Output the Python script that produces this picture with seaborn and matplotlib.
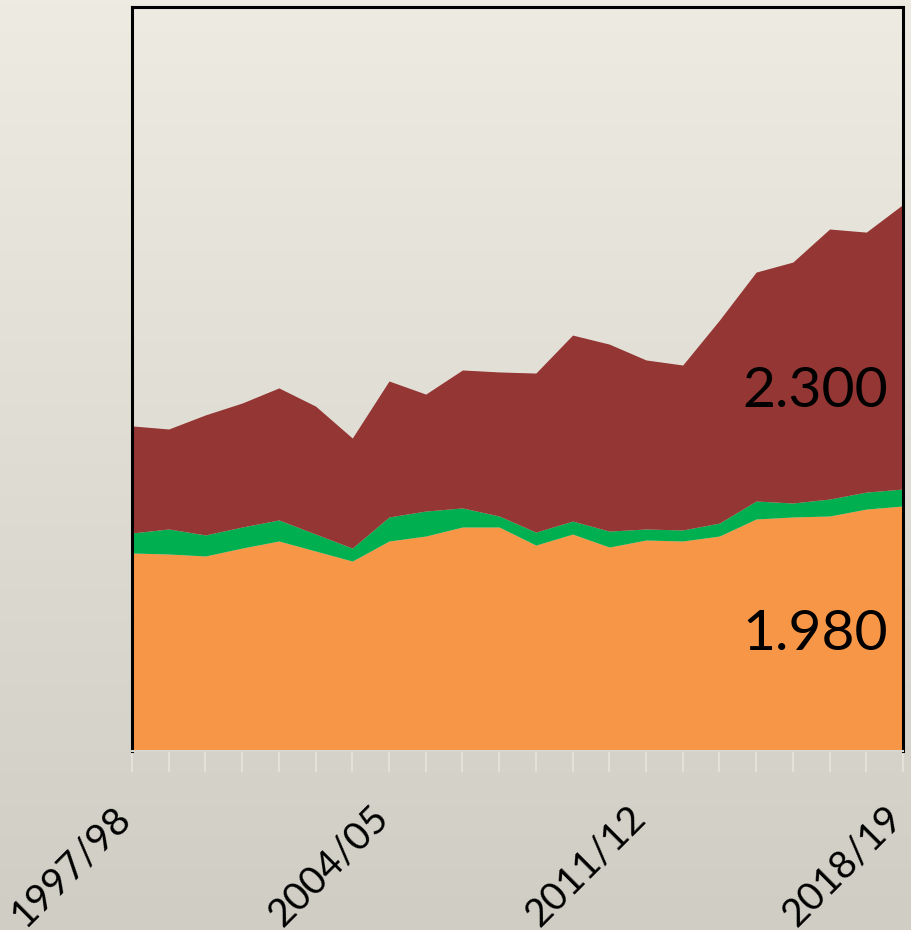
import numpy as np
import matplotlib
matplotlib.use("Agg")
import matplotlib.pyplot as plt
import matplotlib.transforms as mtransforms
import seaborn as sns

years = ["1997/98", "1998/99", "1999/00", "2000/01", "2001/02", "2002/03", "2003/04",
         "2004/05", "2005/06", "2006/07", "2007/08", "2008/09", "2009/10", "2010/11",
         "2011/12", "2012/13", "2013/14", "2014/15", "2015/16", "2016/17", "2017/18",
         "2018/19"]
orange = [1600, 1592, 1576, 1640, 1697, 1616, 1535, 1697, 1737, 1810, 1810, 1664,
          1753, 1648, 1705, 1697, 1737, 1875, 1891, 1899, 1955, 1980]
green = [162, 202, 170, 170, 170, 137, 105, 194, 202, 154, 89, 105, 105, 129, 89,
         89, 105, 145, 113, 137, 137, 137]
brown = [865, 808, 970, 1002, 1067, 1034, 889, 1099, 945, 1115, 1164, 1285, 1503,
         1511, 1366, 1333, 1640, 1850, 1947, 2182, 2101, 2300]
shown_labels = ["1997/98", "2004/05", "2011/12", "2018/19"]

colors = ["#F79646", "#00B050", "#943634"]

sns.set_style("white")
plt.rcParams['font.family'] = ['Lato', 'DejaVu Sans']

fig = plt.figure(figsize=(9.12, 9.30), dpi=100)

# gradient background
bg = fig.add_axes([0, 0, 1, 1], zorder=-10)
top_c = np.array([238, 236, 226]) / 255
bot_c = np.array([208, 206, 196]) / 255
t = np.linspace(0, 1, 256)[:, None]
grad = top_c[None, :] * (1 - t) + bot_c[None, :] * t
bg.imshow(grad[:, None, :].repeat(2, axis=1), aspect="auto", extent=[0, 1, 0, 1])
bg.set_axis_off()

ax = fig.add_axes([132 / 912, (930 - 751) / 930, 771 / 912, 744 / 930])
ax.patch.set_alpha(0)

x = np.arange(len(years))
ax.stackplot(x, orange, green, brown, colors=colors, linewidth=0)

ax.set_xlim(0, len(years) - 1)
ax.set_ylim(0, 6012)
ax.set_yticks([])
ax.set_xticks(x)
ax.set_xticklabels([y if y in shown_labels else "" for y in years],
                   rotation=45, ha="right", va="top", fontsize=28)
ax.tick_params(axis="x", direction="out", length=15, width=1.2, color="#E6E4DC",
               pad=20, labelcolor="black", bottom=True)
offset = mtransforms.ScaledTranslation(6 / 100, 0, fig.dpi_scale_trans)
for lbl in ax.get_xticklabels():
    lbl.set_transform(lbl.get_transform() + offset)

for side in ["left", "top", "right"]:
    ax.spines[side].set_color("black")
    ax.spines[side].set_linewidth(2.2)
ax.spines["bottom"].set_color("#D8D6CE")
ax.spines["bottom"].set_linewidth(1.5)

def fmt(v):
    return f"{v:,}".replace(",", ".")

ax.text(0.981, 0.483, fmt(brown[-1]), transform=ax.transAxes, ha="right",
        va="center", fontsize=41, color="black")
ax.text(0.981, 0.156, fmt(orange[-1]), transform=ax.transAxes, ha="right",
        va="center", fontsize=41, color="black")

fig.savefig("out.png", dpi=100)
